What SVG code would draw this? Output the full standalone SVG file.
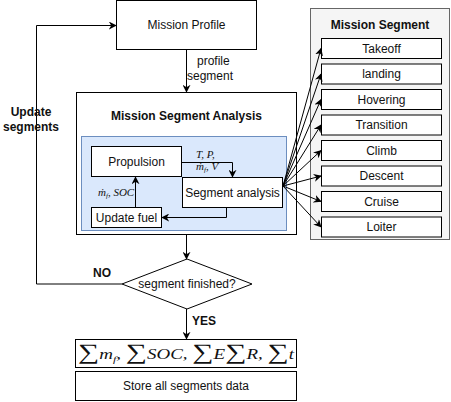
<svg xmlns="http://www.w3.org/2000/svg" width="451" height="402" viewBox="0 0 451 402">
<style>
.box{fill:#fff;stroke:#000;stroke-width:1}
.t{font-family:"Liberation Sans",Arial,sans-serif;font-size:12px;fill:#111;text-anchor:middle}
.s{text-anchor:start}
.b{font-weight:bold}
.m{font-family:"Liberation Serif","Times New Roman",serif;font-style:italic;fill:#111}
.ln{fill:none;stroke:#000;stroke-width:1}
.arr{marker-end:url(#ar)}
</style>
<defs>
<marker id="ar" viewBox="0 0 10 10" refX="9" refY="5" markerWidth="8" markerHeight="8" orient="auto" markerUnits="userSpaceOnUse">
<path d="M0,0 L10,5 L0,10 L3,5 z" fill="#000"/>
</marker>
</defs>
<rect width="451" height="402" fill="#fff"/>

<g id="mission-segment-group">
<rect x="310.5" y="8.5" width="139" height="231" fill="#f5f5f5" stroke="#666"/>
<text class="t b" x="380" y="29">Mission Segment</text>
</g>

<g id="mission-profile">
<rect class="box" x="116.5" y="0.5" width="140" height="49"/>
<text class="t" x="186.5" y="29">Mission Profile</text>
</g>

<g id="msa">
<rect class="box" x="76.5" y="92.5" width="220" height="142"/>
<text class="t b" x="186.5" y="120">Mission Segment Analysis</text>
<rect x="81.5" y="136.5" width="205" height="94" fill="#dae8fc" stroke="#6c8ebf"/>
</g>

<g id="propulsion">
<rect class="box" x="91.5" y="146.5" width="90" height="30"/>
<text class="t" x="136.5" y="166">Propulsion</text>
</g>
<g id="segment-analysis">
<rect class="box" x="182.5" y="177.5" width="100" height="30"/>
<text class="t" x="232.5" y="197">Segment analysis</text>
</g>
<g id="update-fuel">
<rect class="box" x="91.5" y="207.5" width="70" height="20"/>
<text class="t" x="126.5" y="222">Update fuel</text>
</g>

<g id="decision">
<polygon points="122,284 187,259 252,284 187,309" fill="#fff" stroke="#000"/>
<text class="t" x="187" y="288">segment finished?</text>
</g>

<g id="sums">
<rect class="box" x="75.5" y="339.5" width="221" height="28"/>
<text class="m" x="186" y="359" text-anchor="middle" font-size="14" textLength="216" lengthAdjust="spacingAndGlyphs"><tspan font-style="normal" font-size="22">∑</tspan><tspan>m</tspan><tspan font-size="9" dy="3">f</tspan><tspan dy="-3">, </tspan><tspan font-style="normal" font-size="22">∑</tspan><tspan>SOC, </tspan><tspan font-style="normal" font-size="22">∑</tspan><tspan>E</tspan><tspan font-style="normal" font-size="22">∑</tspan><tspan>R, </tspan><tspan font-style="normal" font-size="22">∑</tspan><tspan>t</tspan></text>
</g>
<g id="store">
<rect class="box" x="75.5" y="371.5" width="221" height="29"/>
<text class="t" x="186" y="390">Store all segments data</text>
</g>

<g id="seg-takeoff"><rect class="box" x="321.5" y="38.5" width="120" height="20"/><text class="t" x="381.5" y="52.5">Takeoff</text></g>
<g id="seg-landing"><rect class="box" x="321.5" y="64" width="120" height="20"/><text class="t" x="381.5" y="78">landing</text></g>
<g id="seg-hovering"><rect class="box" x="321.5" y="89.5" width="120" height="20"/><text class="t" x="381.5" y="103.5">Hovering</text></g>
<g id="seg-transition"><rect class="box" x="321.5" y="115" width="120" height="20"/><text class="t" x="381.5" y="129">Transition</text></g>
<g id="seg-climb"><rect class="box" x="321.5" y="140.5" width="120" height="20"/><text class="t" x="381.5" y="154.5">Climb</text></g>
<g id="seg-descent"><rect class="box" x="321.5" y="166" width="120" height="20"/><text class="t" x="381.5" y="180">Descent</text></g>
<g id="seg-cruise"><rect class="box" x="321.5" y="191.5" width="120" height="20"/><text class="t" x="381.5" y="205.5">Cruise</text></g>
<g id="seg-loiter"><rect class="box" x="321.5" y="217" width="120" height="20"/><text class="t" x="381.5" y="231">Loiter</text></g>

<g id="connectors">
<path class="ln arr" d="M186.5,49.5 V92"/>
<path class="ln arr" d="M181.5,162.5 H232.5 V177"/>
<path class="ln arr" d="M226.5,207.5 V217.5 H162"/>
<path class="ln arr" d="M135.5,207.5 V177"/>
<path class="ln arr" d="M186.5,234.5 V259"/>
<path class="ln arr" d="M186.5,309 V339"/>
<path class="ln arr" d="M122,284 H36.5 V25.5 H116"/>
<path class="ln arr" d="M283,186 L321,48.5"/>
<path class="ln arr" d="M283,186 L321,74"/>
<path class="ln arr" d="M283,186 L321,99.5"/>
<path class="ln arr" d="M283,186 L321,125"/>
<path class="ln arr" d="M283,186 L321,150.5"/>
<path class="ln arr" d="M283,186 L321,176"/>
<path class="ln arr" d="M283,186 L321,201.5"/>
<path class="ln arr" d="M283,186 L321,227"/>
</g>

<g id="labels">
<text class="t s" x="197" y="65">profile</text>
<text class="t s" x="187" y="80">segment</text>
<text class="t b" x="31" y="116">Update</text>
<text class="t b" x="31" y="131">segments</text>
<text class="m" x="196" y="158" font-size="11">T, P,</text>
<text class="m" x="196" y="170" font-size="11">ṁ<tspan font-size="7" dy="2">f</tspan><tspan dy="-2">, V</tspan></text>
<text class="m" x="98" y="196" font-size="11">ṁ<tspan font-size="7" dy="2">f</tspan><tspan dy="-2">, SOC</tspan></text>
<text class="t b" x="102" y="277">NO</text>
<text class="t b s" x="192" y="325">YES</text>
</g>
</svg>
